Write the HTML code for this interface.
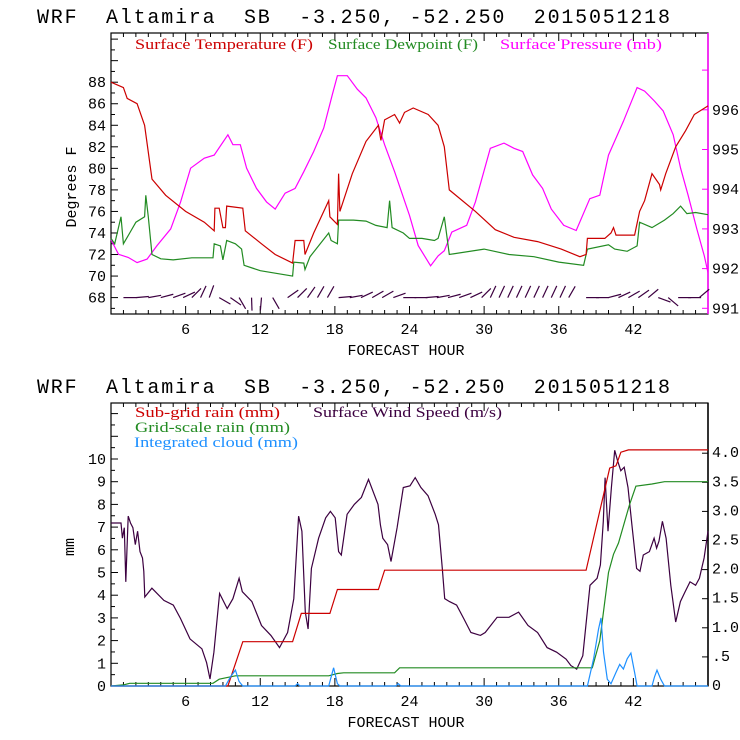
<!DOCTYPE html>
<html><head><meta charset="utf-8"><style>
body{margin:0;background:#fff;}
svg{display:block;}
.t{font-family:"Liberation Mono",monospace;font-size:20px;fill:#000;white-space:pre;}
.tk{font-family:"Liberation Mono",monospace;font-size:15px;fill:#000;}
.lg{font-family:"Liberation Serif",serif;font-size:15px;}
</style></head><body>
<svg id="svg" width="740" height="740" viewBox="0 0 740 740" xmlns="http://www.w3.org/2000/svg">
<rect width="740" height="740" fill="#fff"/>
<text class="t" xml:space="preserve" x="37" y="23" textLength="633">WRF  Altamira  SB  -3.250, -52.250  2015051218</text>
<text class="t" xml:space="preserve" x="37" y="393" textLength="633">WRF  Altamira  SB  -3.250, -52.250  2015051218</text>
<g id="topchart"></g>
<g id="botchart"></g>
</svg>
<script>
// ---------- data ----------
const tempHours=[0,1.0,1.3,2.1,2.7,3.3,4.4,6.0,7.5,8.3,8.35,8.7,9.0,9.2,9.3,10.6,10.8,12.1,13.2,14.6,14.8,15.5,15.6,16.3,17.5,17.6,18.2,18.3,18.4,19.4,20.5,21.5,21.7,22.0,22.8,23.2,23.6,24.3,25.5,26.3,26.8,27.2,29.3,30.9,32.4,34.3,36.2,37.7,38.2,38.3,39.7,40.2,40.4,40.6,42.1,42.5,42.9,43.5,44.1,44.2,44.6,45.4,46.2,46.9,48];
const tempValues=[88,87.5,86.5,86,84,79,77.5,76,75,74.2,76.3,76.3,74.5,74.5,76.5,76.3,74.2,73,72,71.2,73.3,73.3,72,74,77,75.5,74.8,79.5,76,79.5,82.5,84,82.6,84.5,85,84.2,85.2,85.6,85,84,82,78,76,74.3,73.6,73.2,72.5,71.8,72,73.5,73.5,74,74.5,73.8,73.8,76,77,79.5,78.5,78,79.5,82,83.5,85,85.8];
const dewHours=[0,0.3,0.8,1.0,1.5,2,2.7,2.8,3.0,3.3,4,5,6.5,8.2,8.3,8.8,9.0,9.3,10,10.5,10.7,12,14.6,14.7,15.5,15.6,16,17.5,17.7,18.2,18.3,19.5,20.5,21.3,22.2,22.4,22.6,23.5,24,25,26,26.3,26.8,27.2,30,32,34,36,38,38.3,40,40.5,41.5,42.3,42.5,43.5,44.5,45.2,45.8,46.3,47,48];
const dewValues=[73.5,73,75.5,73,74,75,75.5,77.5,75.5,72,71.6,71.5,71.7,71.7,73,72.8,71.5,73.3,73,72.5,71,70.5,70,71.3,71.2,70.6,71.8,74,73.3,73,75.2,75.2,75.1,74.7,74.5,77,74.5,74,73.5,73.5,73.3,73.5,75.5,72,72.5,72,71.8,71.3,71,72.5,72.9,72.5,72.3,72.8,75,74.5,75.2,75.8,76.5,75.8,75.9,75.7];
const presHours=[0,0.6,1.4,2.1,2.9,3.7,4.8,5.6,6.4,7.5,8.3,9.4,9.8,10.4,10.9,11.7,12.5,13.2,14.0,14.8,15.5,16.3,17.1,17.8,18.2,19.0,19.8,20.5,21.3,22.0,22.8,24.0,24.7,25.7,26.3,26.8,27.4,28.6,29.3,30.5,31.6,32.4,33.1,33.9,34.7,35.4,36.4,37.4,38.5,39.3,40.0,41.2,42.3,42.9,43.7,44.4,45.2,45.8,46.4,47.1,47.7,48];
const presValues=[992.73,992.36,992.28,992.15,992.24,992.58,993.0,993.68,994.53,994.78,994.86,995.37,995.12,995.12,994.53,994.02,993.68,993.5,993.9,994.02,994.44,994.95,995.54,996.39,996.86,996.86,996.52,996.3,995.8,995.12,994.44,993.34,992.58,992.07,992.32,992.45,992.92,993.09,993.68,995.03,995.16,995.03,994.95,994.36,994.02,993.5,993.09,992.96,993.76,993.85,994.86,995.71,996.56,996.47,996.22,995.97,995.37,994.53,993.85,993.0,992.32,991.9];
const barbHours=[1,2,3,4,5,5.8,6.5,7.2,7.9,8.7,9.6,10.3,11.3,12.1,13.0,14.2,15.0,15.8,16.6,17.4,18.3,19.2,20.1,21.0,21.8,22.7,23.5,24.4,25.3,26.2,27.1,28.0,28.9,29.8,30.5,31.2,31.9,32.6,33.3,34.0,34.7,35.4,36.1,36.8,38.2,39.0,40.0,40.8,41.6,42.4,43.2,44.0,44.8,45.6,46.4,47.3];
const barbAngles=[0,-5,-10,-15,-20,-25,-45,-65,-70,30,35,60,88,95,60,-35,-45,-55,-60,-60,-5,-10,-25,-30,-30,-20,0,0,-5,-10,-15,-20,-25,-45,-65,-65,-65,-65,-65,-65,-65,-65,-65,-60,0,0,-15,-25,-30,-35,-40,20,40,0,0,-40];
const subRainHours=[0,9.4,10.6,14.6,15.3,17.6,18.2,21.5,22.0,38.2,40.1,40.6,41.0,41.6,48];
const subRainValues=[0,0,1.95,1.95,3.2,3.2,4.25,4.25,5.1,5.1,9.6,9.7,10.3,10.4,10.4];
const gridRainHours=[0,1,1.5,8.2,8.7,10,17.5,18.2,18.7,22.8,23.2,38.7,39.3,40,40.4,40.8,41.7,42.2,43.5,44.5,48];
const gridRainValues=[0,0.05,0.12,0.12,0.3,0.45,0.45,0.55,0.58,0.58,0.8,0.8,2,5,5.8,6.3,8,8.8,8.9,9.0,9.0];
const cloudHours=[0,9.2,9.6,10.0,10.3,10.6,14.8,15.0,15.2,17.5,17.9,18.2,18.4,22.9,23.1,23.3,38.3,38.8,39.2,39.4,39.6,39.9,40.2,40.6,40.9,41.2,41.5,41.8,42.1,42.3,43.5,43.7,43.9,44.2,44.5,48];
const cloudValues=[0,0,0.4,0.7,0.2,0,0,0.1,0,0,0.8,0.1,0,0,0.1,0,0,1.2,2.5,3.0,1.5,0.3,0.1,0.6,0.95,0.75,1.2,1.45,0.6,0,0,0.4,0.7,0.3,0,0];
const windHours=[0,0.8,0.92,1.07,1.19,1.38,1.57,1.76,1.95,2.14,2.33,2.53,2.64,2.72,3.29,4.25,5.01,5.59,6.35,7.31,7.69,7.96,8.27,8.73,9.34,9.8,10.3,10.56,11.33,12.1,12.86,13.55,14.2,14.7,15.08,15.35,15.62,15.85,16.11,16.69,17.26,17.64,18.03,18.3,18.52,18.98,19.56,20.13,20.7,21.47,21.66,21.85,22.24,22.51,23.0,23.5,24.04,24.46,24.92,25.49,26.07,26.33,26.64,26.83,27.22,27.79,28.36,28.94,29.7,30.09,31.04,32.0,32.77,33.53,34.3,35.06,35.83,36.59,36.98,37.44,37.93,38.51,39.08,39.35,39.58,39.73,39.96,40.23,40.5,40.73,40.99,41.26,41.57,41.88,42.26,42.53,42.8,43.29,43.67,43.87,44.06,44.33,44.63,45.01,45.4,45.78,46.16,46.55,47.0,47.31,47.69,48];
const windValues=[2.8,2.8,2.54,2.72,1.79,2.92,2.8,2.72,2.43,2.66,2.31,2.2,1.97,1.53,1.68,1.47,1.39,1.16,0.81,0.64,0.40,0.12,0.58,1.59,1.33,1.5,1.85,1.62,1.45,1.04,0.87,0.66,0.92,1.5,2.92,2.66,1.27,0.98,2.02,2.54,2.89,3.0,2.89,2.31,2.25,2.95,3.12,3.24,3.55,3.12,2.77,2.54,2.43,2.14,2.72,3.41,3.44,3.58,3.41,3.27,2.95,2.77,2.02,1.5,1.45,1.39,1.16,0.92,0.87,0.92,1.18,1.18,1.27,1.04,0.92,0.66,0.58,0.46,0.35,0.29,0.52,1.73,1.85,2.08,2.83,3.58,2.66,3.41,4.05,3.87,3.7,3.76,3.41,2.77,2.02,1.97,2.25,2.31,2.54,2.37,2.49,2.83,2.54,1.73,1.1,1.45,1.62,1.79,1.73,1.85,2.2,2.66];
const xTicks=[6,12,18,24,30,36,42];
const tempTicks=[68,70,72,74,76,78,80,82,84,86,88];
const presTicks=[991,992,993,994,995,996];
const mmTicks=[0,1,2,3,4,5,6,7,8,9,10];
const windTicks=[0,0.5,1,1.5,2,2.5,3,3.5,4];
const windTickLabels=["0",".5","1.0","1.5","2.0","2.5","3.0","3.5","4.0"];

// ---------- helpers ----------
const NS="http://www.w3.org/2000/svg";
function mk(parent,tag,attrs,text){const e=document.createElementNS(NS,tag);for(const k in attrs)e.setAttribute(k,attrs[k]);if(text!==undefined)e.textContent=text;parent.appendChild(e);return e;}
const L=111,R=708;
const x=h=>L+h*(R-L)/48;
function poly(parent,hs,vs,fy,color,name){
  const pts=hs.map((h,i)=>x(h).toFixed(1)+","+fy(vs[i]).toFixed(1)).join(" ");
  const p=mk(parent,"polyline",{points:pts,fill:"none",stroke:color,"stroke-width":1.2});
  
  
}
function frame(g,T,B,rightColor){
  const f=mk(g,"rect",{x:L,y:T,width:R-L,height:B-T,fill:"none",stroke:"#000","stroke-width":1.2});
  
  
  mk(g,"line",{x1:R,y1:T,x2:R,y2:B,stroke:rightColor,"stroke-width":1.5});
  for(let h=1;h<48;h++){const big=h%6===0;mk(g,"line",{x1:x(h),y1:B,x2:x(h),y2:B-(big?8:4),stroke:"#000"});mk(g,"line",{x1:x(h),y1:T,x2:x(h),y2:T+(big?8:4),stroke:"#000"});}
  xTicks.forEach(h=>{const t=mk(g,"text",{class:"tk",x:x(h),y:B+20,"text-anchor":"middle"},String(h));
    
    });
  const xt=mk(g,"text",{class:"tk",x:406,y:B+41,"text-anchor":"middle","font-size":"16"},"FORECAST HOUR");
  
  
}

// ---------- top chart ----------
const topG=document.getElementById('topchart');
const T1=33,B1=314;
const yT=d=>82.2+(88-d)*10.77;
const yP=m=>109.8+(996-m)*39.7;
frame(topG,T1,B1,"#ff00ff");
for(let d=67;d<=92;d++){mk(topG,"line",{x1:L,y1:yT(d),x2:L+(d%2===0?7:4),y2:yT(d),stroke:"#000"});}
tempTicks.forEach(d=>{const t=mk(topG,"text",{class:"tk",x:106,y:yT(d)+5,"text-anchor":"end"},String(d));
  
  });
for(let m=991;m<=997;m++){mk(topG,"line",{x1:R,y1:yP(m),x2:R-6,y2:yP(m),stroke:"#ff00ff"});}
presTicks.forEach(m=>{const t=mk(topG,"text",{class:"tk",x:712,y:yP(m)+5},String(m));
  
  });
const yl=mk(topG,"text",{class:"tk","font-size":"20",transform:"translate(76,187) rotate(-90)","text-anchor":"middle"},"Degrees F");


poly(topG,presHours,presValues,yP,"#ff00ff","pressure-line");
poly(topG,dewHours,dewValues,yT,"#228b22","dewpoint-line");
poly(topG,tempHours,tempValues,yT,"#cc0000","temperature-line");
barbHours.forEach((h,i)=>{const a=barbAngles[i]*Math.PI/180;const x0=x(h),y0=yT(68);
  const ln=mk(topG,"line",{x1:x0,y1:y0,x2:x0+13*Math.cos(a),y2:y0+13*Math.sin(a),stroke:"#3c0040","stroke-width":1.2});
  
  });
[["Surface Temperature (F)","#cc0000",135,178],["Surface Dewpoint (F)","#228b22",328,150],["Surface Pressure (mb)","#ff00ff",500,162]].forEach(a=>{
  const t=mk(topG,"text",{class:"lg",x:a[2],y:49,fill:a[1],textLength:a[3],lengthAdjust:"spacingAndGlyphs"},a[0]);
  
  });

// ---------- bottom chart ----------
const botG=document.getElementById('botchart');
const T2=403,B2=686;
const yM=v=>686-v*22.7;
const yW=v=>686-v*58.2;
frame(botG,T2,B2,"#000");
for(let v=0;v<=12;v+=0.5){mk(botG,"line",{x1:L,y1:yM(v),x2:L+(v%1===0?7:4),y2:yM(v),stroke:"#000"});}
mmTicks.forEach(v=>{const t=mk(botG,"text",{class:"tk",x:106,y:yM(v)+5,"text-anchor":"end"},String(v));
  
  });
windTicks.forEach((v,i)=>{mk(botG,"line",{x1:R,y1:yW(v),x2:R-6,y2:yW(v),stroke:"#000"});
  const t=mk(botG,"text",{class:"tk","font-size":"12",x:712,y:yW(v)+4},windTickLabels[i]);
  
  });
const yl2=mk(botG,"text",{class:"tk","font-size":"18",transform:"translate(74,547) rotate(-90)","text-anchor":"middle"},"mm");


poly(botG,windHours,windValues,yW,"#3c0040","wind-speed-line");
poly(botG,gridRainHours,gridRainValues,yM,"#228b22","grid-scale-rain-line");
poly(botG,subRainHours,subRainValues,yM,"#cc0000","sub-grid-rain-line");
poly(botG,cloudHours,cloudValues,yM,"#1e90ff","integrated-cloud-line");
[["Sub-grid rain (mm)","#cc0000",135,417,145],["Surface Wind Speed (m/s)","#3c0040",313,417,189],["Grid-scale rain (mm)","#228b22",135,432,155],["Integrated cloud (mm)","#1e90ff",134,447,164]].forEach(a=>{
  const t=mk(botG,"text",{class:"lg",x:a[2],y:a[3],fill:a[1],textLength:a[4],lengthAdjust:"spacingAndGlyphs"},a[0]);
  
  });
</script>
</body></html>
